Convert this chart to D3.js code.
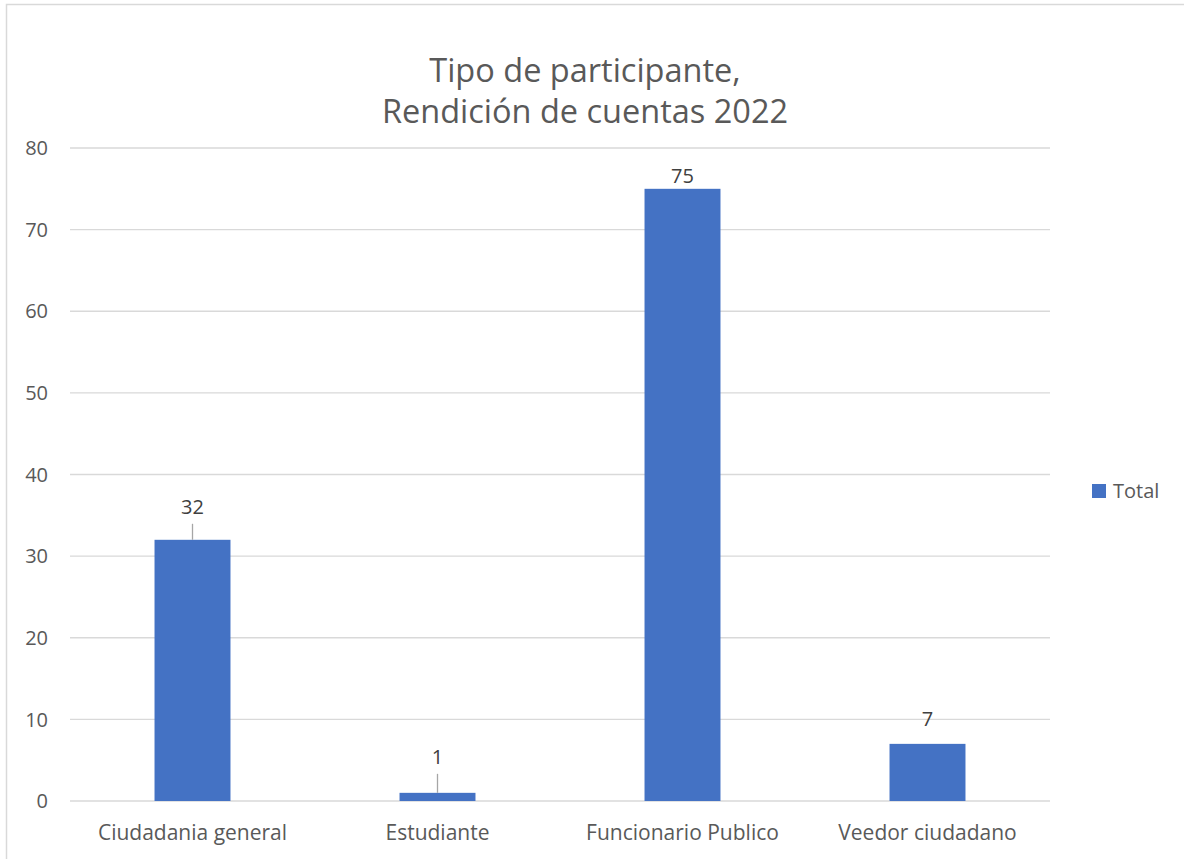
<!DOCTYPE html>
<html>
<head>
<meta charset="utf-8">
<script src="https://cdn.jsdelivr.net/npm/d3@7"></script>
<style>
  html, body { margin: 0; padding: 0; background: #fff; }
  svg { display: block; }
  text { font-family: "Open Sans", Lato, sans-serif; fill: #595959; }
</style>
</head>
<body>
<svg id="chart" width="1184" height="859"></svg>
<script>
// Participant types and counts
const categories = ["Ciudadania general", "Estudiante", "Funcionario Publico", "Veedor ciudadano"];
const totals = [32, 1, 75, 7];
const yTicks = [0, 10, 20, 30, 40, 50, 60, 70, 80];
const titleLines = ["Tipo de participante,", "Rendición de cuentas 2022"];
const seriesName = "Total";

const svg = d3.select("#chart");
const W = 1184, H = 859;
const plot = { left: 70, right: 1050, top: 148, bottom: 801 };
const barColor = "#4472C4";

// chart area frame
svg.append("rect")
  .attr("x", 6.5).attr("y", 4.5)
  .attr("width", W + 10).attr("height", H + 10)
  .attr("fill", "#fff").attr("stroke", "#d9d9d9").attr("stroke-width", 1.5);

const x = d3.scaleBand()
  .domain(categories)
  .range([plot.left, plot.right])
  .paddingInner(0.69)
  .paddingOuter(0.345);

const y = d3.scaleLinear()
  .domain([0, 80])
  .range([plot.bottom, plot.top]);

// gridlines
svg.append("g")
  .selectAll("line")
  .data(yTicks)
  .join("line")
  .attr("x1", plot.left).attr("x2", plot.right)
  .attr("y1", d => y(d)).attr("y2", d => y(d))
  .attr("stroke", "#d9d9d9").attr("stroke-width", 1.3);

// y tick labels
svg.append("g")
  .selectAll("text")
  .data(yTicks)
  .join("text")
  .attr("x", 48).attr("y", d => y(d))
  .attr("dy", "0.36em")
  .attr("text-anchor", "end")
  .attr("font-size", 20)
  .text(d => d);

// bars
svg.append("g")
  .selectAll("rect")
  .data(categories)
  .join("rect")
  .attr("x", d => x(d))
  .attr("width", x.bandwidth())
  .attr("y", (d, i) => y(totals[i]))
  .attr("height", (d, i) => y(0) - y(totals[i]))
  .attr("fill", barColor);

// data labels; the ones moved off their bar get a leader line
const labelLift = [26, 29, 6, 18];
const leader = [true, true, false, false];
const labels = svg.append("g");
categories.forEach((c, i) => {
  const cx = x(c) + x.bandwidth() / 2;
  const top = y(totals[i]);
  const base = top - labelLift[i];
  labels.append("text")
    .attr("x", cx).attr("y", base)
    .attr("text-anchor", "middle")
    .attr("font-size", 20)
    .style("fill", "#404040")
    .text(totals[i]);
  if (leader[i]) {
    labels.append("line")
      .attr("x1", cx).attr("x2", cx)
      .attr("y1", base + 10).attr("y2", top)
      .attr("stroke", "#a6a6a6").attr("stroke-width", 1.3);
  }
});

// category labels
svg.append("g")
  .selectAll("text")
  .data(categories)
  .join("text")
  .attr("x", d => x(d) + x.bandwidth() / 2)
  .attr("y", 840)
  .attr("text-anchor", "middle")
  .attr("font-size", 21)
  .text(d => d);

// title
svg.append("g")
  .selectAll("text")
  .data(titleLines)
  .join("text")
  .attr("x", 585)
  .attr("y", (d, i) => 82 + i * 41)
  .attr("text-anchor", "middle")
  .attr("font-size", 32.5)
  .text(d => d);

// legend
const lg = svg.append("g");
lg.append("rect")
  .attr("x", 1092).attr("y", 484)
  .attr("width", 14).attr("height", 14)
  .attr("fill", barColor);
lg.append("text")
  .attr("x", 1113).attr("y", 491)
  .attr("dy", "0.36em")
  .attr("font-size", 20)
  .text(seriesName);
</script>
</body>
</html>
